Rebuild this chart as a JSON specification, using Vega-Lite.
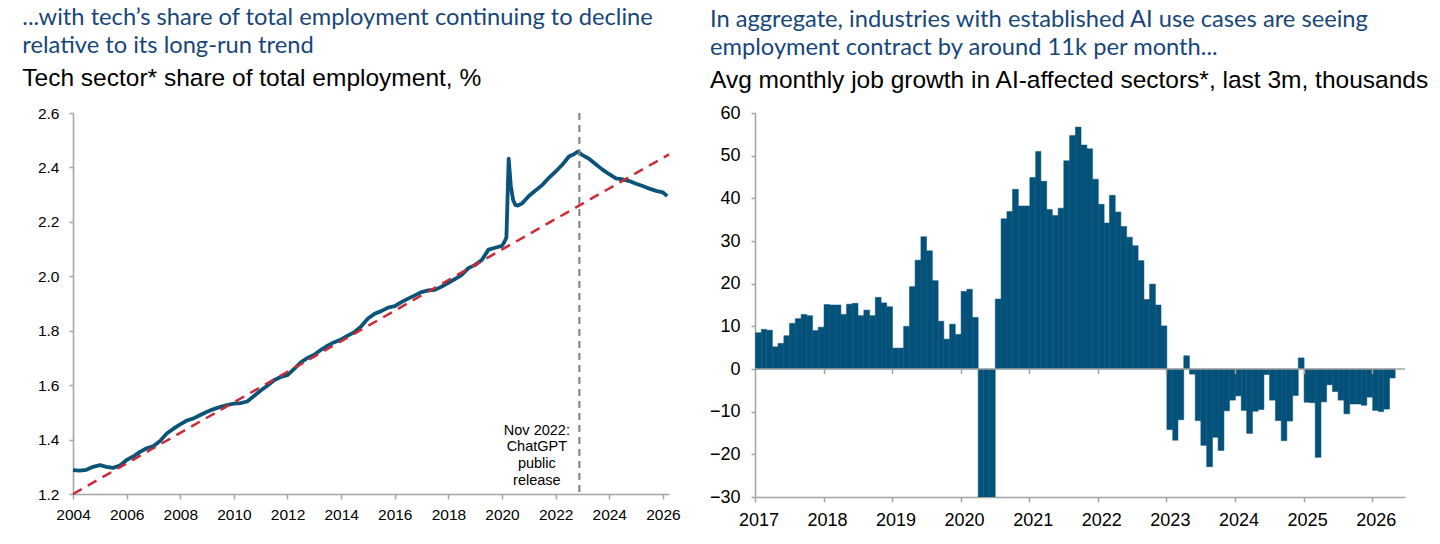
{
  "$schema": "https://vega.github.io/schema/vega-lite/v6.json",
  "padding": {"left": 22, "top": 5, "right": 5, "bottom": 5},
  "background": "white",
  "spacing": 28,
  "config": {
    "view": {"stroke": null},
    "axis": {"domainColor": "#a3a3a3", "tickColor": "#a3a3a3", "domainWidth": 1.5, "tickWidth": 1.5, "labelFont": "Liberation Sans", "labelColor": "#000000", "grid": false, "labelFlush": false, "labelOverlap": false},
    "title": {"anchor": "start", "frame": "group", "font": "Lato", "fontSize": 23.7, "fontWeight": "normal", "color": "#17477a", "lineHeight": 28.3, "subtitleFont": "Liberation Sans", "subtitleFontSize": 24.5, "subtitleColor": "#000000", "subtitleLineHeight": 28, "subtitlePadding": 9}
  },
  "datasets": {
    "share": [
      {"date": "2004-01-01", "share": 1.288}, {"date": "2004-04-01", "share": 1.286}, {"date": "2004-07-01", "share": 1.289}, {"date": "2004-10-01", "share": 1.300},
      {"date": "2005-01-01", "share": 1.306}, {"date": "2005-04-01", "share": 1.300}, {"date": "2005-07-01", "share": 1.296}, {"date": "2005-10-01", "share": 1.305},
      {"date": "2006-01-01", "share": 1.325}, {"date": "2006-04-01", "share": 1.338}, {"date": "2006-07-01", "share": 1.355}, {"date": "2006-10-01", "share": 1.368},
      {"date": "2007-01-01", "share": 1.376}, {"date": "2007-04-01", "share": 1.395}, {"date": "2007-07-01", "share": 1.422}, {"date": "2007-10-01", "share": 1.440},
      {"date": "2008-01-01", "share": 1.456}, {"date": "2008-04-01", "share": 1.470}, {"date": "2008-07-01", "share": 1.478}, {"date": "2008-10-01", "share": 1.490},
      {"date": "2009-01-01", "share": 1.502}, {"date": "2009-04-01", "share": 1.512}, {"date": "2009-07-01", "share": 1.520}, {"date": "2009-10-01", "share": 1.527},
      {"date": "2010-01-01", "share": 1.532}, {"date": "2010-04-01", "share": 1.534}, {"date": "2010-07-01", "share": 1.540}, {"date": "2010-10-01", "share": 1.560},
      {"date": "2011-01-01", "share": 1.580}, {"date": "2011-04-01", "share": 1.598}, {"date": "2011-07-01", "share": 1.618}, {"date": "2011-10-01", "share": 1.630},
      {"date": "2012-01-01", "share": 1.637}, {"date": "2012-04-01", "share": 1.660}, {"date": "2012-07-01", "share": 1.684}, {"date": "2012-10-01", "share": 1.700},
      {"date": "2013-01-01", "share": 1.712}, {"date": "2013-04-01", "share": 1.730}, {"date": "2013-07-01", "share": 1.745}, {"date": "2013-10-01", "share": 1.758},
      {"date": "2014-01-01", "share": 1.768}, {"date": "2014-04-01", "share": 1.782}, {"date": "2014-07-01", "share": 1.795}, {"date": "2014-10-01", "share": 1.816},
      {"date": "2015-01-01", "share": 1.845}, {"date": "2015-04-01", "share": 1.862}, {"date": "2015-07-01", "share": 1.872}, {"date": "2015-10-01", "share": 1.885},
      {"date": "2016-01-01", "share": 1.890}, {"date": "2016-04-01", "share": 1.905}, {"date": "2016-07-01", "share": 1.918}, {"date": "2016-10-01", "share": 1.930},
      {"date": "2017-01-01", "share": 1.942}, {"date": "2017-04-01", "share": 1.948}, {"date": "2017-07-01", "share": 1.950}, {"date": "2017-10-01", "share": 1.962},
      {"date": "2018-01-01", "share": 1.976}, {"date": "2018-04-01", "share": 1.990}, {"date": "2018-07-01", "share": 2.005}, {"date": "2018-10-01", "share": 2.030},
      {"date": "2019-01-01", "share": 2.042}, {"date": "2019-04-01", "share": 2.060}, {"date": "2019-07-01", "share": 2.098}, {"date": "2019-10-01", "share": 2.105},
      {"date": "2020-01-01", "share": 2.112}, {"date": "2020-02-01", "share": 2.125}, {"date": "2020-03-01", "share": 2.142}, {"date": "2020-04-01", "share": 2.432},
      {"date": "2020-05-01", "share": 2.330}, {"date": "2020-06-01", "share": 2.280}, {"date": "2020-07-01", "share": 2.262}, {"date": "2020-08-01", "share": 2.260},
      {"date": "2020-09-01", "share": 2.264}, {"date": "2020-10-01", "share": 2.268},
      {"date": "2021-01-01", "share": 2.295}, {"date": "2021-04-01", "share": 2.315}, {"date": "2021-07-01", "share": 2.335}, {"date": "2021-10-01", "share": 2.362},
      {"date": "2022-01-01", "share": 2.385}, {"date": "2022-04-01", "share": 2.410}, {"date": "2022-07-01", "share": 2.440}, {"date": "2022-09-01", "share": 2.448},
      {"date": "2022-11-01", "share": 2.458}, {"date": "2023-01-01", "share": 2.445}, {"date": "2023-04-01", "share": 2.432}, {"date": "2023-07-01", "share": 2.412},
      {"date": "2023-10-01", "share": 2.392}, {"date": "2024-01-01", "share": 2.375}, {"date": "2024-04-01", "share": 2.360}, {"date": "2024-07-01", "share": 2.356},
      {"date": "2024-10-01", "share": 2.350}, {"date": "2025-01-01", "share": 2.340}, {"date": "2025-04-01", "share": 2.332}, {"date": "2025-07-01", "share": 2.322},
      {"date": "2025-10-01", "share": 2.314}, {"date": "2026-01-01", "share": 2.308}, {"date": "2026-03-01", "share": 2.295}
    ],
    "trend": [
      {"date": "2004-01-01", "trend": 1.2},
      {"date": "2026-03-25", "trend": 2.448}
    ],
    "growth": [
      {"month": "2017-01-01", "v": 8.5}, {"month": "2017-02-01", "v": 9.3}, {"month": "2017-03-01", "v": 9.1}, {"month": "2017-04-01", "v": 5.2}, {"month": "2017-05-01", "v": 6.0}, {"month": "2017-06-01", "v": 7.8},
      {"month": "2017-07-01", "v": 10.7}, {"month": "2017-08-01", "v": 11.8}, {"month": "2017-09-01", "v": 12.8}, {"month": "2017-10-01", "v": 12.5}, {"month": "2017-11-01", "v": 9.0}, {"month": "2017-12-01", "v": 9.8},
      {"month": "2018-01-01", "v": 15.1}, {"month": "2018-02-01", "v": 15.0}, {"month": "2018-03-01", "v": 15.0}, {"month": "2018-04-01", "v": 12.8}, {"month": "2018-05-01", "v": 15.2}, {"month": "2018-06-01", "v": 15.4},
      {"month": "2018-07-01", "v": 12.5}, {"month": "2018-08-01", "v": 13.8}, {"month": "2018-09-01", "v": 12.5}, {"month": "2018-10-01", "v": 16.8}, {"month": "2018-11-01", "v": 15.5}, {"month": "2018-12-01", "v": 14.6},
      {"month": "2019-01-01", "v": 4.9}, {"month": "2019-02-01", "v": 4.9}, {"month": "2019-03-01", "v": 10.0}, {"month": "2019-04-01", "v": 19.3}, {"month": "2019-05-01", "v": 25.5}, {"month": "2019-06-01", "v": 31.0},
      {"month": "2019-07-01", "v": 27.7}, {"month": "2019-08-01", "v": 20.7}, {"month": "2019-09-01", "v": 11.2}, {"month": "2019-10-01", "v": 7.0}, {"month": "2019-11-01", "v": 10.5}, {"month": "2019-12-01", "v": 8.1},
      {"month": "2020-01-01", "v": 18.2}, {"month": "2020-02-01", "v": 18.7}, {"month": "2020-03-01", "v": 12.1}, {"month": "2020-04-01", "v": -30}, {"month": "2020-05-01", "v": -30}, {"month": "2020-06-01", "v": -30},
      {"month": "2020-07-01", "v": 16.4}, {"month": "2020-08-01", "v": 35.2}, {"month": "2020-09-01", "v": 36.9}, {"month": "2020-10-01", "v": 42.1}, {"month": "2020-11-01", "v": 38.2}, {"month": "2020-12-01", "v": 38.2},
      {"month": "2021-01-01", "v": 44.9}, {"month": "2021-02-01", "v": 51.0}, {"month": "2021-03-01", "v": 44.0}, {"month": "2021-04-01", "v": 37.4}, {"month": "2021-05-01", "v": 36.0}, {"month": "2021-06-01", "v": 37.7},
      {"month": "2021-07-01", "v": 48.8}, {"month": "2021-08-01", "v": 54.7}, {"month": "2021-09-01", "v": 56.7}, {"month": "2021-10-01", "v": 52.5}, {"month": "2021-11-01", "v": 51.6}, {"month": "2021-12-01", "v": 44.5},
      {"month": "2022-01-01", "v": 38.6}, {"month": "2022-02-01", "v": 34.2}, {"month": "2022-03-01", "v": 40.7}, {"month": "2022-04-01", "v": 36.8}, {"month": "2022-05-01", "v": 33.4}, {"month": "2022-06-01", "v": 30.9},
      {"month": "2022-07-01", "v": 28.9}, {"month": "2022-08-01", "v": 25.4}, {"month": "2022-09-01", "v": 16.3}, {"month": "2022-10-01", "v": 19.9}, {"month": "2022-11-01", "v": 15.0}, {"month": "2022-12-01", "v": 10.1},
      {"month": "2023-01-01", "v": -14.2}, {"month": "2023-02-01", "v": -16.7}, {"month": "2023-03-01", "v": -11.9}, {"month": "2023-04-01", "v": 3.1}, {"month": "2023-05-01", "v": -1.2}, {"month": "2023-06-01", "v": -12.1},
      {"month": "2023-07-01", "v": -17.9}, {"month": "2023-08-01", "v": -22.9}, {"month": "2023-09-01", "v": -16.0}, {"month": "2023-10-01", "v": -19.1}, {"month": "2023-11-01", "v": -9.8}, {"month": "2023-12-01", "v": -7.3},
      {"month": "2024-01-01", "v": -6.3}, {"month": "2024-02-01", "v": -9.7}, {"month": "2024-03-01", "v": -15.1}, {"month": "2024-04-01", "v": -9.9}, {"month": "2024-05-01", "v": -9.5}, {"month": "2024-06-01", "v": -1.3},
      {"month": "2024-07-01", "v": -7.3}, {"month": "2024-08-01", "v": -12.1}, {"month": "2024-09-01", "v": -16.8}, {"month": "2024-10-01", "v": -12.2}, {"month": "2024-11-01", "v": -6.2}, {"month": "2024-12-01", "v": 2.6},
      {"month": "2025-01-01", "v": -7.8}, {"month": "2025-02-01", "v": -7.9}, {"month": "2025-03-01", "v": -20.7}, {"month": "2025-04-01", "v": -7.7}, {"month": "2025-05-01", "v": -3.7}, {"month": "2025-06-01", "v": -5.3},
      {"month": "2025-07-01", "v": -7.3}, {"month": "2025-08-01", "v": -10.5}, {"month": "2025-09-01", "v": -8.2}, {"month": "2025-10-01", "v": -8.2}, {"month": "2025-11-01", "v": -8.5}, {"month": "2025-12-01", "v": -6.6},
      {"month": "2026-01-01", "v": -9.7}, {"month": "2026-02-01", "v": -10.0}, {"month": "2026-03-01", "v": -9.4}, {"month": "2026-04-01", "v": -2.1}
    ]
  },
  "hconcat": [
    {
      "width": 596,
      "height": 381,
      "title": {
        "text": ["...with tech\u2019s share of total employment continuing to decline", "relative to its long-run trend"],
        "subtitle": "Tech sector* share of total employment, %",
        "dx": -50.7,
        "offset": 16
      },
      "layer": [
        {
          "data": {"name": "share"},
          "mark": {"type": "line", "color": "#0b5479", "strokeWidth": 3.8, "strokeJoin": "round"},
          "encoding": {
            "x": {"field": "date", "type": "temporal", "title": null,
              "scale": {"type": "utc", "domain": [{"year": 2004, "month": 1, "date": 1, "utc": true}, {"year": 2026, "month": 3, "date": 25, "utc": true}]},
              "axis": {"format": "%Y", "labelFontSize": 15.5, "tickSize": 5, "labelPadding": 8,
                "values": [{"year": 2004, "utc": true}, {"year": 2006, "utc": true}, {"year": 2008, "utc": true}, {"year": 2010, "utc": true}, {"year": 2012, "utc": true}, {"year": 2014, "utc": true}, {"year": 2016, "utc": true}, {"year": 2018, "utc": true}, {"year": 2020, "utc": true}, {"year": 2022, "utc": true}, {"year": 2024, "utc": true}, {"year": 2026, "utc": true}]}},
            "y": {"field": "share", "type": "quantitative", "title": null,
              "scale": {"domain": [1.2, 2.6], "nice": false, "zero": false},
              "axis": {"values": [1.2, 1.4, 1.6, 1.8, 2.0, 2.2, 2.4, 2.6], "format": ".1f", "labelFontSize": 15.5, "tickSize": 4, "labelPadding": 10}}
          }
        },
        {
          "data": {"name": "trend"},
          "mark": {"type": "line", "color": "#cc2a36", "strokeWidth": 2.5, "strokeDash": [10, 7]},
          "encoding": {
            "x": {"field": "date", "type": "temporal"},
            "y": {"field": "trend", "type": "quantitative"}
          }
        },
        {
          "data": {"values": [{}]},
          "mark": {"type": "rule", "color": "#808080", "strokeWidth": 2, "strokeDash": [7, 5]},
          "encoding": {
            "x": {"datum": {"year": 2022, "month": 11, "date": 20, "utc": true}, "type": "temporal"}
          }
        },
        {
          "data": {"values": [{}]},
          "mark": {"type": "text", "align": "center", "baseline": "alphabetic", "font": "Liberation Sans", "fontSize": 14.5, "lineHeight": 16.8, "color": "#000000"},
          "encoding": {
            "x": {"datum": {"year": 2021, "month": 4, "date": 20, "utc": true}, "type": "temporal"},
            "y": {"datum": 1.418, "type": "quantitative"},
            "text": {"value": ["Nov 2022:", "ChatGPT", "public", "release"]}
          }
        }
      ]
    },
    {
      "width": 650,
      "height": 384,
      "title": {
        "text": ["In aggregate, industries with established AI use cases are seeing", "employment contract by around 11k per month..."],
        "subtitle": "Avg monthly job growth in AI-affected sectors*, last 3m, thousands",
        "dx": -45,
        "offset": 12
      },
      "resolve": {"axis": {"x": "independent"}},
      "layer": [
        {
          "data": {"name": "growth"},
          "mark": {"type": "bar", "color": "#04517a", "clip": true, "binSpacing": 0, "stroke": "#04517a", "strokeWidth": 0.5},
          "encoding": {
            "x": {"field": "month", "type": "temporal", "timeUnit": "utcyearmonth", "title": null,
              "scale": {"type": "utc", "domain": [{"year": 2017, "month": 1, "date": 1, "utc": true}, {"year": 2026, "month": 6, "date": 25, "utc": true}]},
              "axis": {"orient": "bottom", "format": "%Y", "labelFontSize": 18, "tickSize": 5, "labelPadding": 9, "labelOffset": 3.5,
                "values": [{"year": 2017, "utc": true}, {"year": 2018, "utc": true}, {"year": 2019, "utc": true}, {"year": 2020, "utc": true}, {"year": 2021, "utc": true}, {"year": 2022, "utc": true}, {"year": 2023, "utc": true}, {"year": 2024, "utc": true}, {"year": 2025, "utc": true}, {"year": 2026, "utc": true}]}},
            "y": {"field": "v", "type": "quantitative", "title": null,
              "scale": {"domain": [-30, 60], "nice": false},
              "axis": {"values": [-30, -20, -10, 0, 10, 20, 30, 40, 50, 60], "labelFontSize": 18, "tickSize": 4, "labelPadding": 11}}
          }
        },
        {
          "data": {"values": [{}]},
          "mark": {"type": "rule", "color": "#a3a3a3", "strokeWidth": 1.5},
          "encoding": {"y": {"datum": 0, "type": "quantitative"}}
        },
        {
          "data": {"name": "growth"},
          "mark": {"type": "point", "opacity": 0},
          "encoding": {
            "x": {"field": "month", "type": "temporal", "timeUnit": "utcyearmonth", "title": null,
              "axis": {"orient": "bottom", "offset": -128.3, "labels": false, "domain": false, "ticks": true, "tickSize": 5, "zindex": 1,
                "values": [{"year": 2018, "utc": true}, {"year": 2019, "utc": true}, {"year": 2020, "utc": true}, {"year": 2021, "utc": true}, {"year": 2022, "utc": true}, {"year": 2023, "utc": true}, {"year": 2024, "utc": true}, {"year": 2025, "utc": true}, {"year": 2026, "utc": true}]}},
            "y": {"field": "v", "type": "quantitative"}
          }
        }
      ]
    }
  ]
}
